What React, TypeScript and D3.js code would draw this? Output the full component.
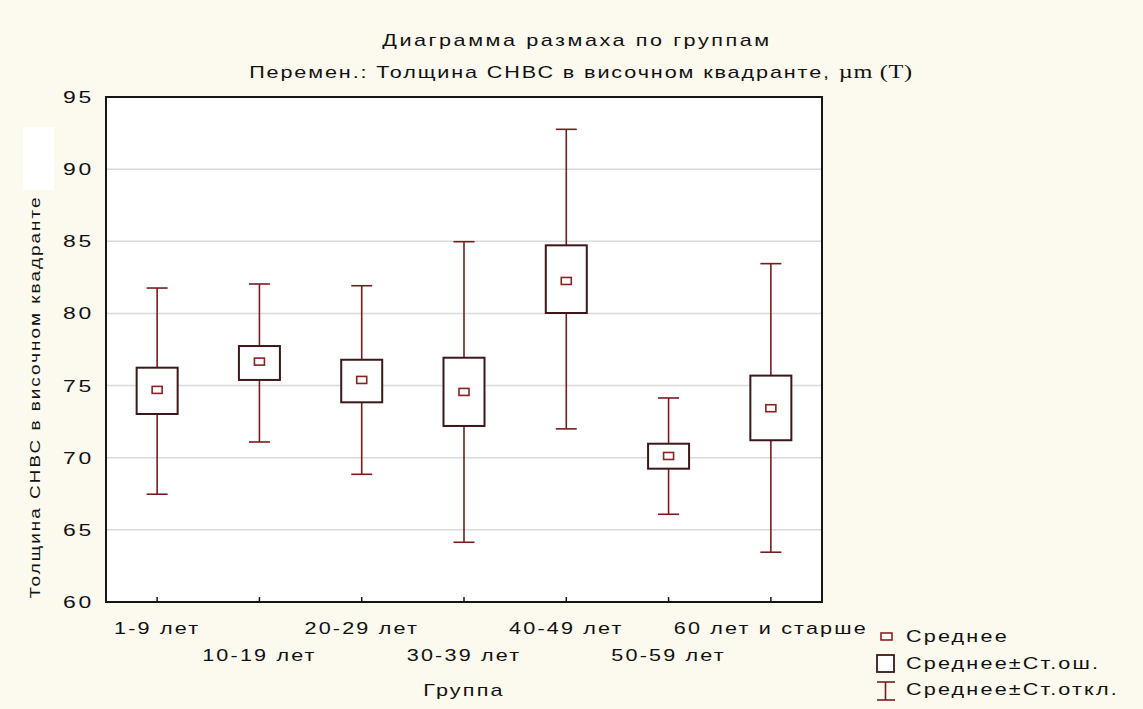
import React, { useRef, useEffect } from 'react';
import * as d3 from 'd3';

// значения
const groups = ['1-9 лет', '10-19 лет', '20-29 лет', '30-39 лет', '40-49 лет', '50-59 лет', '60 лет и старше'];
const means = [74.7, 76.66, 75.39, 74.56, 82.25, 70.12, 73.43];
const seLow = [73.03, 75.39, 73.84, 72.2, 80.03, 69.24, 71.21];
const seHigh = [76.24, 77.74, 76.79, 76.93, 84.72, 70.97, 75.69];
const sdLow = [67.47, 71.09, 68.85, 64.14, 72.0, 66.08, 63.45];
const sdHigh = [81.76, 82.04, 81.92, 84.97, 92.76, 74.14, 83.45];
const yTicks = [60, 65, 70, 75, 80, 85, 90, 95];
const legendItems = ['Среднее', 'Среднее±Ст.ош.', 'Среднее±Ст.откл.'];

const title = 'Диаграмма размаха по группам';
const subtitle = 'Перемен.: Толщина СНВС в височном квадранте, ';
const yLabel = 'Толщина СНВС в височном квадранте';
const xLabel = 'Группа';

const W = 1143;
const H = 709;
const FONT = '"Liberation Sans", Arial, sans-serif';
const WHISKER = '#7a1c1c';
const BOXLINE = '#3d1818';
const MEAN = '#8a2222';
const SX = 1.35; // шрифт Statistica заметно шире

const App = () => {
  const svgRef = useRef(null);

  useEffect(() => {
    document.body.style.margin = '0';
    const svg = d3.select(svgRef.current);
    svg.selectAll('*').remove();

    const margin = { top: 97, right: 321, bottom: 107, left: 106 };
    const x = d3
      .scaleBand()
      .domain(groups)
      .range([margin.left, W - margin.right]);
    const y = d3
      .scaleLinear()
      .domain([60, 95])
      .range([H - margin.bottom, margin.top]);

    const boxW = 41;
    const capW = 21;

    svg.append('rect').attr('width', W).attr('height', H).attr('fill', '#fcf9ef');
    // белое пятно у подписи оси (есть на исходнике)
    svg.append('rect').attr('x', 23).attr('y', 127).attr('width', 31).attr('height', 63).attr('fill', '#ffffff');

    svg
      .append('rect')
      .attr('x', margin.left)
      .attr('y', margin.top)
      .attr('width', W - margin.right - margin.left)
      .attr('height', H - margin.bottom - margin.top)
      .attr('fill', '#ffffff');

    // сетка
    svg
      .append('g')
      .selectAll('line')
      .data(yTicks.slice(1, -1))
      .join('line')
      .attr('x1', margin.left)
      .attr('x2', W - margin.right)
      .attr('y1', (d) => y(d))
      .attr('y2', (d) => y(d))
      .attr('stroke', '#dadada')
      .attr('stroke-width', 1.5);

    const cx = (i) => x(groups[i]) + x.bandwidth() / 2;

    const g = svg.append('g').selectAll('g').data(groups).join('g');

    // усы
    g.append('line')
      .attr('x1', (d, i) => cx(i))
      .attr('x2', (d, i) => cx(i))
      .attr('y1', (d, i) => y(sdHigh[i]))
      .attr('y2', (d, i) => y(sdLow[i]))
      .attr('stroke', WHISKER)
      .attr('stroke-width', 1.6);
    g.append('line')
      .attr('x1', (d, i) => cx(i) - capW / 2)
      .attr('x2', (d, i) => cx(i) + capW / 2)
      .attr('y1', (d, i) => y(sdHigh[i]))
      .attr('y2', (d, i) => y(sdHigh[i]))
      .attr('stroke', WHISKER)
      .attr('stroke-width', 1.6);
    g.append('line')
      .attr('x1', (d, i) => cx(i) - capW / 2)
      .attr('x2', (d, i) => cx(i) + capW / 2)
      .attr('y1', (d, i) => y(sdLow[i]))
      .attr('y2', (d, i) => y(sdLow[i]))
      .attr('stroke', WHISKER)
      .attr('stroke-width', 1.6);

    // ящики
    g.append('rect')
      .attr('x', (d, i) => cx(i) - boxW / 2)
      .attr('y', (d, i) => y(seHigh[i]))
      .attr('width', boxW)
      .attr('height', (d, i) => y(seLow[i]) - y(seHigh[i]))
      .attr('fill', '#ffffff')
      .attr('stroke', BOXLINE)
      .attr('stroke-width', 2);

    // средние
    g.append('rect')
      .attr('x', (d, i) => cx(i) - 5)
      .attr('y', (d, i) => y(means[i]) - 3.5)
      .attr('width', 10)
      .attr('height', 7)
      .attr('fill', '#ffffff')
      .attr('stroke', MEAN)
      .attr('stroke-width', 1.6);

    // рамка
    svg
      .append('rect')
      .attr('x', margin.left)
      .attr('y', margin.top)
      .attr('width', W - margin.right - margin.left)
      .attr('height', H - margin.bottom - margin.top)
      .attr('fill', 'none')
      .attr('stroke', '#161616')
      .attr('stroke-width', 2);

    // деления по X
    svg
      .append('g')
      .selectAll('line')
      .data(groups)
      .join('line')
      .attr('x1', (d, i) => cx(i))
      .attr('x2', (d, i) => cx(i))
      .attr('y1', H - margin.bottom)
      .attr('y2', H - margin.bottom - 5)
      .attr('stroke', '#161616')
      .attr('stroke-width', 1.5);

    const txt = (sel, size, ls) =>
      sel
        .attr('font-family', FONT)
        .attr('font-size', size)
        .attr('letter-spacing', ls)
        .attr('fill', '#111');

    // подписи Y
    txt(
      svg
        .append('g')
        .selectAll('text')
        .data(yTicks)
        .join('text')
        .attr('transform', (d) => `translate(94, ${y(d) + 6}) scale(${SX},1)`)
        .attr('text-anchor', 'end')
        .text((d) => d),
      17,
      2
    );

    // подписи X, в два ряда
    txt(
      svg
        .append('g')
        .selectAll('text')
        .data(groups)
        .join('text')
        .attr('transform', (d, i) => `translate(${cx(i)}, ${i % 2 === 0 ? 634 : 661}) scale(${SX},1)`)
        .attr('text-anchor', 'middle')
        .text((d) => d),
      16,
      1.6
    );

    txt(
      svg.append('text').attr('transform', `translate(577, 46) scale(${SX},1)`).attr('text-anchor', 'middle').text(title),
      16,
      1.9
    );
    const st = txt(
      svg.append('text').attr('transform', `translate(581, 78) scale(${SX},1)`).attr('text-anchor', 'middle'),
      16,
      1.4
    );
    st.append('tspan').text(subtitle);
    st.append('tspan')
      .attr('font-family', '"Liberation Serif", serif')
      .attr('letter-spacing', 0.5)
      .attr('font-size', 18)
      .text('µm (T)');

    txt(
      svg.append('text').attr('transform', `translate(464, 696) scale(${SX},1)`).attr('text-anchor', 'middle').text(xLabel),
      16,
      1.6
    );
    txt(
      svg
        .append('text')
        .attr('transform', `translate(40, 397) rotate(-90) scale(${SX},1)`)
        .attr('text-anchor', 'middle')
        .text(yLabel),
      14,
      1.5
    );

    // легенда
    const lg = svg.append('g');
    lg.append('rect').attr('x', 881).attr('y', 633).attr('width', 11).attr('height', 7).attr('fill', '#fff').attr('stroke', MEAN).attr('stroke-width', 1.6);
    lg.append('rect').attr('x', 877).attr('y', 655).attr('width', 17).attr('height', 17).attr('fill', '#fff').attr('stroke', BOXLINE).attr('stroke-width', 1.8);
    lg.append('line').attr('x1', 885.5).attr('x2', 885.5).attr('y1', 682).attr('y2', 700).attr('stroke', WHISKER).attr('stroke-width', 1.6);
    lg.append('line').attr('x1', 877).attr('x2', 895).attr('y1', 682).attr('y2', 682).attr('stroke', WHISKER).attr('stroke-width', 1.6);
    lg.append('line').attr('x1', 877).attr('x2', 895).attr('y1', 700).attr('y2', 700).attr('stroke', WHISKER).attr('stroke-width', 1.6);
    txt(
      lg
        .selectAll('text')
        .data(legendItems)
        .join('text')
        .attr('transform', (d, i) => `translate(906, ${[642, 669, 695][i]}) scale(${SX},1)`)
        .text((d) => d),
      16,
      1.6
    );
  }, []);

  return <svg ref={svgRef} width={W} height={H} style={{ display: 'block' }} />;
};

export default App;
